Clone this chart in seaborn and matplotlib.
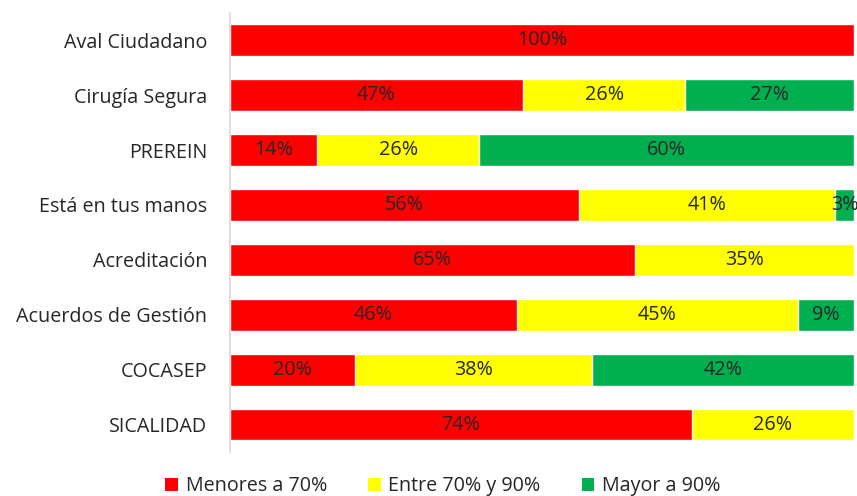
import matplotlib
matplotlib.use("Agg")
import matplotlib.pyplot as plt
import seaborn as sns
import pandas as pd
from matplotlib.patches import Patch

categories = ["Aval Ciudadano", "Cirugía Segura", "PREREIN", "Está en tus manos",
              "Acreditación", "Acuerdos de Gestión", "COCASEP", "SICALIDAD"]
menores = [100, 47, 14, 56, 65, 46, 20, 74]
entre = [0, 26, 26, 41, 35, 45, 38, 26]
mayor = [0, 27, 60, 3, 0, 9, 42, 0]
series_names = ["Menores a 70%", "Entre 70% y 90%", "Mayor a 90%"]
colors = ["#FF0000", "#FFFF00", "#00B050"]

df = pd.DataFrame({"Programa": categories, "r": menores, "y": entre, "g": mayor})
df["c1"] = df["r"]
df["c2"] = df["r"] + df["y"]
df["c3"] = df["r"] + df["y"] + df["g"]

sns.set_theme(style="white")
plt.rcParams["font.family"] = ["Open Sans", "DejaVu Sans"]
text_color = "#262626"
fs = 14.2

fig = plt.figure(figsize=(8.57, 4.96), dpi=100)
ax = fig.add_axes([0.268, 0.0887, 0.7285, 0.8855])

# overlay cumulative bars, largest first
for col, c in zip(["c3", "c2", "c1"], colors[::-1]):
    sns.barplot(data=df, x=col, y="Programa", color=c, ax=ax,
                width=0.58, saturation=1, orient="h")

for i, row in df.iterrows():
    start = 0
    for key in ["r", "y", "g"]:
        v = row[key]
        if v > 0:
            ax.text(start + v / 2, i, f"{v}%", ha="center", va="center",
                    fontsize=fs, color=text_color)
        start += v

ax.set_xlim(0, 100)
ax.set_ylim(7.5, -0.5)
ax.set_xlabel("")
ax.set_ylabel("")
ax.set_xticks([])
ax.tick_params(axis="y", length=0, pad=16, labelsize=fs, labelcolor=text_color)
for s in ["top", "right", "bottom"]:
    ax.spines[s].set_visible(False)
ax.spines["left"].set_color("#D9D9D9")
ax.spines["left"].set_linewidth(1.2)

handles = [Patch(facecolor=c, edgecolor="none") for c in colors]
fig.legend(handles, series_names, loc="lower center", bbox_to_anchor=(0.517, -0.036),
           ncol=3, frameon=False, fontsize=fs, handlelength=0.62, handleheight=0.62,
           columnspacing=2.1, handletextpad=0.4, labelcolor=text_color)

fig.savefig("out.png", dpi=100)
